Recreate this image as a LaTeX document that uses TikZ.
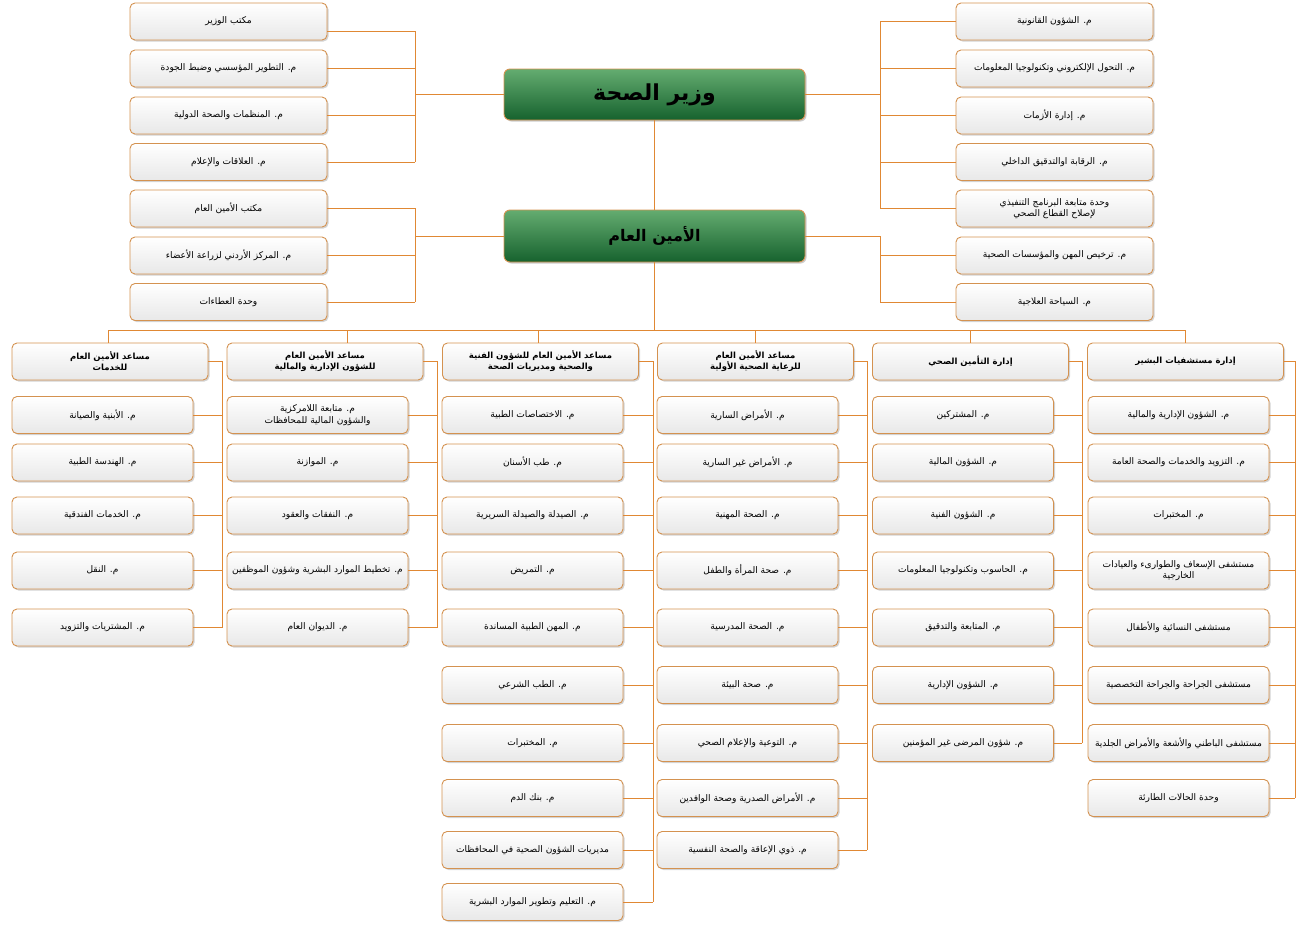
\documentclass[tikz,border=0pt]{standalone}
\usepackage{fontspec}
\newfontfamily\arabicfont[Script=Arabic]{DejaVu Sans}
\TeXXeTstate=1
\usetikzlibrary{shadows}
\newcommand\rl[1]{\beginR #1\endR}
\definecolor{linec}{RGB}{224,136,52}
\definecolor{boxb}{RGB}{212,146,80}
\definecolor{gtop}{RGB}{100,172,112}
\definecolor{gbot}{RGB}{22,98,46}
\tikzset{
  box/.style={draw=boxb, line width=0.9pt, rounded corners=5pt, top color=white, bottom color=black!9,
    drop shadow={shadow xshift=1.5pt,shadow yshift=-1.5pt,opacity=0.35},
    minimum height=37pt, inner sep=1pt, align=center,
    font=\arabicfont\fontsize{9.1}{11.5}\selectfont},
  topbox/.style={box, minimum width=197pt},
  kid/.style={box, minimum width=181pt},
  head/.style={box, minimum width=196pt, font=\arabicfont\bfseries\fontsize{8.5}{11}\selectfont},
  chief/.style={draw=boxb, line width=0.9pt, rounded corners=6pt, top color=gtop, bottom color=gbot,
    drop shadow={shadow xshift=1.5pt,shadow yshift=-1.5pt,opacity=0.4},
    minimum width=301pt, minimum height=51pt, inner sep=1pt},
  conn/.style={draw=linec, line width=0.9pt}
}
\begin{document}
\begin{tikzpicture}[x=1pt,y=-1pt]
\useasboundingbox (0,0) rectangle (1307,927);
% ---- chiefs
\node[chief, font=\arabicfont\bfseries\fontsize{22}{26}\selectfont] (min) at (654.5,94.5) {\rl{وزير الصحة}};
\node[chief, minimum height=52pt, font=\arabicfont\bfseries\fontsize{16}{20}\selectfont] (gs) at (654.5,236) {\rl{الأمين العام}};
% ---- top left
\node[topbox] (L1) at (228.5,21.5) {\rl{مكتب الوزير}};
\node[topbox] (L2) at (228.5,68.5) {\rl{م. التطوير المؤسسي وضبط الجودة}};
\node[topbox] (L3) at (228.5,115.5) {\rl{م. المنظمات والصحة الدولية}};
\node[topbox] (L4) at (228.5,162) {\rl{م. العلاقات والإعلام}};
\node[topbox] (L5) at (228.5,208.5) {\rl{مكتب الأمين العام}};
\node[topbox] (L6) at (228.5,255.5) {\rl{م. المركز الأردني لزراعة الأعضاء}};
\node[topbox] (L7) at (228.5,302) {\rl{وحدة العطاءات}};
% ---- top right
\node[topbox] (R1) at (1054.5,21.5) {\rl{م. الشؤون القانونية}};
\node[topbox] (R2) at (1054.5,68.5) {\rl{م. التحول الإلكتروني وتكنولوجيا المعلومات}};
\node[topbox] (R3) at (1054.5,115.5) {\rl{م. إدارة الأزمات}};
\node[topbox] (R4) at (1054.5,162) {\rl{م. الرقابة اوالتدقيق الداخلي}};
\node[topbox] (R5) at (1054.5,208.5) {\rl{وحدة متابعة البرنامج التنفيذي}\\\rl{لإصلاح القطاع الصحي}};
\node[topbox] (R6) at (1054.5,255.5) {\rl{م. ترخيص المهن والمؤسسات الصحية}};
\node[topbox] (R7) at (1054.5,302) {\rl{م. السياحة العلاجية}};
% ---- headers
\node[head] (H1) at (110,361.5) {\rl{مساعد الأمين العام}\\\rl{للخدمات}};
\node[head] (H2) at (325,361.5) {\rl{مساعد الأمين العام}\\\rl{للشؤون الإدارية والمالية}};
\node[head] (H3) at (540.5,361.5) {\rl{مساعد الأمين العام للشؤون الفنية}\\\rl{والصحية ومديريات الصحة}};
\node[head] (H4) at (755.5,361.5) {\rl{مساعد الأمين العام}\\\rl{للرعاية الصحية الأولية}};
\node[head] (H5) at (970.5,361.5) {\rl{إدارة التأمين الصحي}};
\node[head] (H6) at (1185.5,361.5) {\rl{إدارة مستشفيات البشير}};
% ---- column 1
\node[kid] (A1) at (102.5,415) {\rl{م. الأبنية والصيانة}};
\node[kid] (A2) at (102.5,462.5) {\rl{م. الهندسة الطبية}};
\node[kid] (A3) at (102.5,515.5) {\rl{م. الخدمات الفندقية}};
\node[kid] (A4) at (102.5,570.5) {\rl{م. النقل}};
\node[kid] (A5) at (102.5,627.5) {\rl{م. المشتريات والتزويد}};
% ---- column 2
\node[kid] (B1) at (317.5,415) {\rl{م. متابعة اللامركزية}\\\rl{والشؤون المالية للمحافظات}};
\node[kid] (B2) at (317.5,462.5) {\rl{م. الموازنة}};
\node[kid] (B3) at (317.5,515.5) {\rl{م. النفقات والعقود}};
\node[kid] (B4) at (317.5,570.5) {\rl{م. تخطيط الموارد البشرية وشؤون الموظفين}};
\node[kid] (B5) at (317.5,627.5) {\rl{م. الديوان العام}};
% ---- column 3
\node[kid] (C1) at (532.5,415) {\rl{م. الاختصاصات الطبية}};
\node[kid] (C2) at (532.5,462.5) {\rl{م. طب الأسنان}};
\node[kid] (C3) at (532.5,515.5) {\rl{م. الصيدلة والصيدلة السريرية}};
\node[kid] (C4) at (532.5,570.5) {\rl{م. التمريض}};
\node[kid] (C5) at (532.5,627.5) {\rl{م. المهن الطبية المساندة}};
\node[kid] (C6) at (532.5,685) {\rl{م. الطب الشرعي}};
\node[kid] (C7) at (532.5,743) {\rl{م. المختبرات}};
\node[kid] (C8) at (532.5,798) {\rl{م. بنك الدم}};
\node[kid] (C9) at (532.5,850) {\rl{مديريات الشؤون الصحية في المحافظات}};
\node[kid] (C10) at (532.5,902) {\rl{م. التعليم وتطوير الموارد البشرية}};
% ---- column 4
\node[kid] (D1) at (747.5,415) {\rl{م. الأمراض السارية}};
\node[kid] (D2) at (747.5,462.5) {\rl{م. الأمراض غير السارية}};
\node[kid] (D3) at (747.5,515.5) {\rl{م. الصحة المهنية}};
\node[kid] (D4) at (747.5,570.5) {\rl{م. صحة المرأة والطفل}};
\node[kid] (D5) at (747.5,627.5) {\rl{م. الصحة المدرسية}};
\node[kid] (D6) at (747.5,685) {\rl{م. صحة البيئة}};
\node[kid] (D7) at (747.5,743) {\rl{م. التوعية والإعلام الصحي}};
\node[kid] (D8) at (747.5,798) {\rl{م. الأمراض الصدرية وصحة الوافدين}};
\node[kid] (D9) at (747.5,850) {\rl{م. ذوي الإعاقة والصحة النفسية}};
% ---- column 5
\node[kid] (E1) at (963,415) {\rl{م. المشتركين}};
\node[kid] (E2) at (963,462.5) {\rl{م. الشؤون المالية}};
\node[kid] (E3) at (963,515.5) {\rl{م. الشؤون الفنية}};
\node[kid] (E4) at (963,570.5) {\rl{م. الحاسوب وتكنولوجيا المعلومات}};
\node[kid] (E5) at (963,627.5) {\rl{م. المتابعة والتدقيق}};
\node[kid] (E6) at (963,685) {\rl{م. الشؤون الإدارية}};
\node[kid] (E7) at (963,743) {\rl{م. شؤون المرضى غير المؤمنين}};
% ---- column 6
\node[kid] (F1) at (1178.5,415) {\rl{م. الشؤون الإدارية والمالية}};
\node[kid] (F2) at (1178.5,462.5) {\rl{م. التزويد والخدمات والصحة العامة}};
\node[kid] (F3) at (1178.5,515.5) {\rl{م. المختبرات}};
\node[kid] (F4) at (1178.5,570.5) {\rl{مستشفى الإسعاف والطوارىء والعيادات}\\\rl{الخارجية}};
\node[kid] (F5) at (1178.5,627.5) {\rl{مستشفى النسائية والأطفال}};
\node[kid] (F6) at (1178.5,685) {\rl{مستشفى الجراحة والجراحة التخصصية}};
\node[kid] (F7) at (1178.5,743) {\rl{مستشفى الباطني والأشعة والأمراض الجلدية}};
\node[kid] (F8) at (1178.5,798) {\rl{وحدة الحالات الطارئة}};
% ---- connector coordinates
\coordinate (vL) at (415,0);
\coordinate (vR) at (880,0);
\coordinate (busL) at (108,330);
\coordinate (busR) at (1185,330);
\coordinate (v1) at (222,0);
\coordinate (v2) at (437,0);
\coordinate (v3) at (653,0);
\coordinate (v4) at (867,0);
\coordinate (v5) at (1082,0);
\coordinate (v6) at (1295,0);
\begin{scope}[conn]
\draw (min.south) -- (gs.north);
% top left
\draw (min.west) -- (min.west -| vL);
\draw ([yshift=-10pt]L1.east) -| (vL |- L4.east);
\foreach \n in {L2,L3,L4} \draw (\n.east) -- (\n.east -| vL);
\draw (gs.west) -- (gs.west -| vL);
\draw (L5.east) -| (vL |- L7.east);
\foreach \n in {L6,L7} \draw (\n.east) -- (\n.east -| vL);
% top right
\draw (min.east) -- (min.east -| vR);
\draw (R1.west) -| (vR |- R5.west);
\foreach \n in {R2,R3,R4,R5} \draw (\n.west) -- (\n.west -| vR);
\draw (gs.east) -| (vR |- R7.west);
\foreach \n in {R6,R7} \draw (\n.west) -- (\n.west -| vR);
% bus
\draw (gs.south) -- (gs.south |- busL);
\draw (busL) -- (busR);
\draw (busL) -- (busL |- H1.north);
\draw ([xshift=22pt]H2.north) -- ([xshift=22pt]H2.north |- busL);
\draw ([xshift=-2.5pt]H3.north) -- ([xshift=-2.5pt]H3.north |- busL);
\draw (H4.north) -- (H4.north |- busL);
\draw (H5.north) -- (H5.north |- busL);
\draw (H6.north) -- (H6.north |- busL);
% columns
\draw (H1.east) -| (v1 |- A5.east);
\foreach \n in {A1,A2,A3,A4,A5} \draw (\n.east) -- (\n.east -| v1);
\draw (H2.east) -| (v2 |- B5.east);
\foreach \n in {B1,B2,B3,B4,B5} \draw (\n.east) -- (\n.east -| v2);
\draw (H3.east) -| (v3 |- C10.east);
\foreach \n in {C1,C2,C3,C4,C5,C6,C7,C8,C9,C10} \draw (\n.east) -- (\n.east -| v3);
\draw (H4.east) -| (v4 |- D9.east);
\foreach \n in {D1,D2,D3,D4,D5,D6,D7,D8,D9} \draw (\n.east) -- (\n.east -| v4);
\draw (H5.east) -| (v5 |- E7.east);
\foreach \n in {E1,E2,E3,E4,E5,E6,E7} \draw (\n.east) -- (\n.east -| v5);
\draw (H6.east) -| (v6 |- F8.east);
\foreach \n in {F1,F2,F3,F4,F5,F6,F7,F8} \draw (\n.east) -- (\n.east -| v6);
\end{scope}
\end{tikzpicture}
\end{document}
